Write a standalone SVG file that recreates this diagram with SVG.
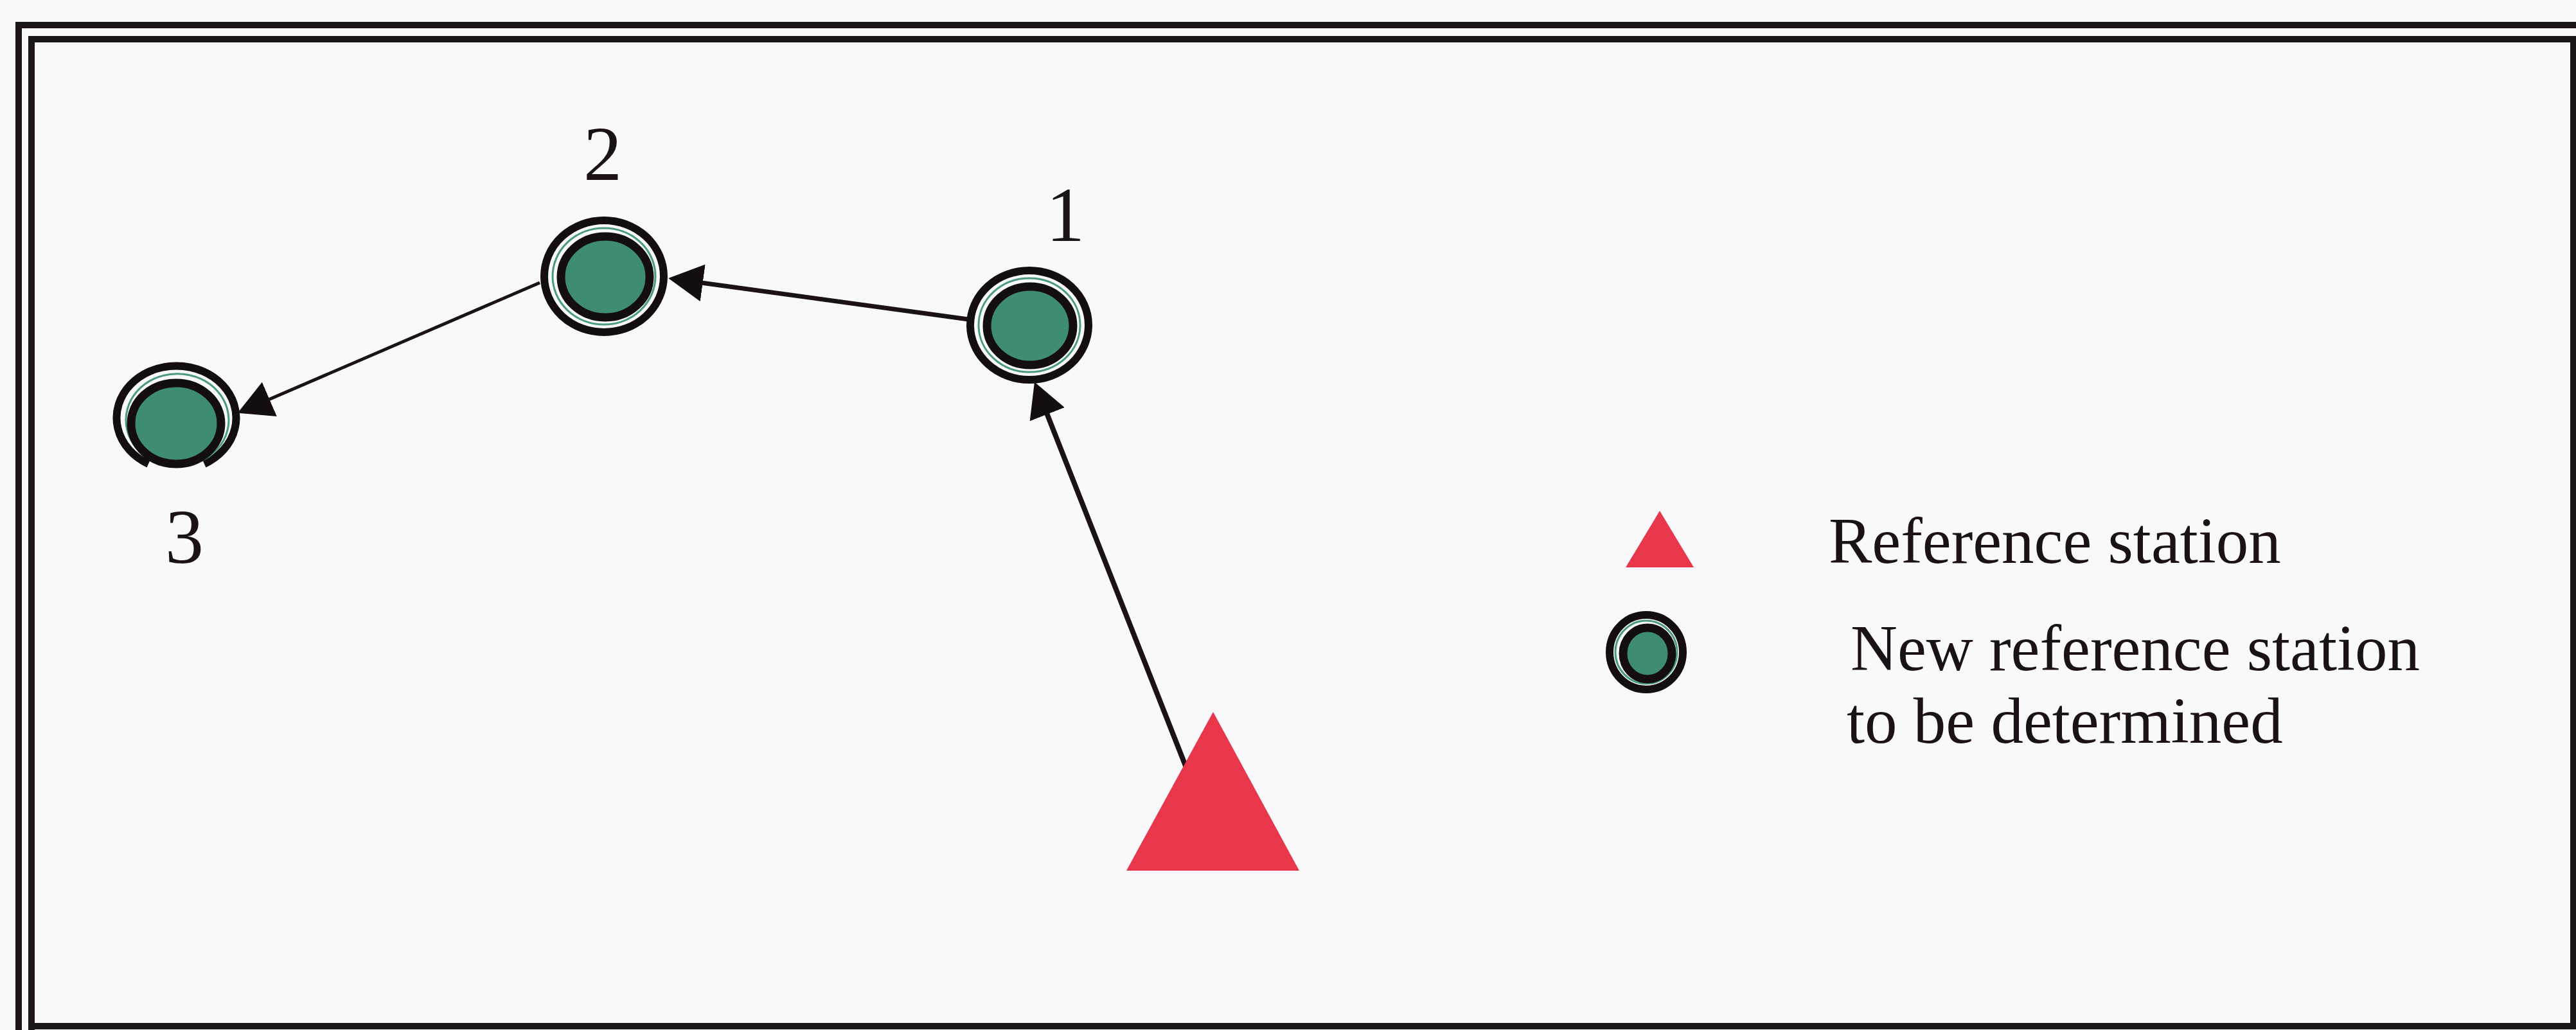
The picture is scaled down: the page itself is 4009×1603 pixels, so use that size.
<svg xmlns="http://www.w3.org/2000/svg" width="4009" height="1603" viewBox="0 0 4009 1603">
<defs>
<style>
.frame{fill:none;stroke:#1c1519;stroke-width:10}
.ring{fill:none;stroke:#140e10;stroke-width:12}
.thin{fill:none;stroke:#4a9a82;stroke-width:3}
.core{fill:#3e8c74;stroke:#140e10;stroke-width:13}
.tri{fill:#e8364a}
.conn{fill:none;stroke:#1a1216}
.num{font-family:"Liberation Serif","Times New Roman",serif;font-size:120px;fill:#1a1216;text-anchor:middle}
.leg{font-family:"Liberation Serif","Times New Roman",serif;font-size:101px;fill:#1a1216}
</style>
<marker id="ah" markerUnits="userSpaceOnUse" markerWidth="54" markerHeight="58" viewBox="0 0 54 58" refX="32" refY="29" orient="auto">
<path d="M0,0 L54,29 L0,58 Z" fill="#140e10"/>
</marker>
</defs>
<rect x="0" y="0" width="4009" height="1603" fill="#f9f9fc"/>
<g id="frame">
<path class="frame" d="M29,1603 L29,39 L4009,39"/>
<path class="frame" d="M49,1603 L49,61 L4005,61 L4005,1597 L44,1597"/>
</g>
<g id="connectors">
<line class="conn" stroke-width="8" x1="1862" y1="1235" x2="1618" y2="615" marker-end="url(#ah)"/>
<line class="conn" stroke-width="7" x1="1507" y1="497" x2="1062" y2="436" marker-end="url(#ah)"/>
<line class="conn" stroke-width="5" x1="840" y1="440" x2="390" y2="634" marker-end="url(#ah)"/>
</g>
<g id="node-ref">
<polygon class="tri" points="1888,1108 1753,1355 2022,1355"/>
</g>
<g id="node-1">
<ellipse class="ring" cx="1602" cy="506" rx="92" ry="85"/>
<ellipse class="thin" cx="1602" cy="506" rx="79" ry="73"/>
<ellipse class="core" cx="1603" cy="507" rx="67" ry="61"/>
<text class="num" x="1658" y="375">1</text>
</g>
<g id="node-2">
<ellipse class="ring" cx="940" cy="430" rx="93" ry="87"/>
<ellipse class="thin" cx="940" cy="430" rx="80" ry="75"/>
<ellipse class="core" cx="942" cy="431" rx="69" ry="63"/>
<text class="num" x="938" y="280">2</text>
</g>
<g id="node-3">
<path class="ring" d="M231,722 A93 81 0 1 1 318,722"/>
<path class="thin" d="M240,718 A80 72 0 1 1 312,718"/>
<ellipse class="core" cx="274" cy="659" rx="70" ry="63"/>
<text class="num" x="287" y="876">3</text>
</g>
<g id="legend">
<polygon class="tri" points="2583,795 2530,883 2636,883"/>
<text class="leg" x="2846" y="876">Reference station</text>
<ellipse class="ring" cx="2562" cy="1015" rx="57" ry="58" stroke-width="10"/>
<ellipse class="thin" cx="2562" cy="1015" rx="48" ry="49"/>
<ellipse class="core" cx="2564" cy="1017" rx="38" ry="40" stroke-width="10"/>
<text class="leg" x="2880" y="1043">New reference station</text>
<text class="leg" x="2874" y="1156">to be determined</text>
</g>
</svg>
